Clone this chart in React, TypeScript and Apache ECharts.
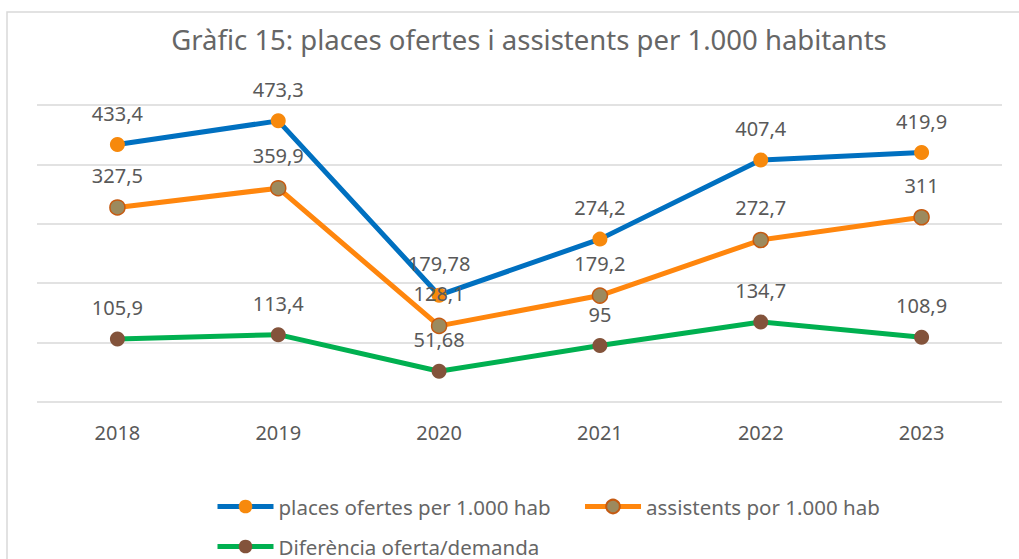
import React, { useEffect, useRef } from "react";
import * as echarts from "echarts";

const years = ["2018", "2019", "2020", "2021", "2022", "2023"];
const placesOfertes = [433.4, 473.3, 179.78, 274.2, 407.4, 419.9];
const assistents = [327.5, 359.9, 128.1, 179.2, 272.7, 311];
const diferencia = [105.9, 113.4, 51.68, 95, 134.7, 108.9];

const seriesNames = [
  "places ofertes per 1.000 hab",
  "assistents por 1.000 hab",
  "Diferència oferta/demanda",
];
const titleText = "Gràfic 15: places ofertes i assistents per 1.000 habitants";

const FONT = "'Noto Sans', sans-serif";
const TEXT = "#595959";

export default function App() {
  const ref = useRef<HTMLDivElement>(null);
  useEffect(() => {
    if (!ref.current) return;
    const chart = echarts.init(ref.current, undefined, { renderer: "svg" });
    const fmt = (p: any) => String(p.value).replace(".", ",");
    const label = {
      show: true,
      position: "top" as const,
      distance: 14,
      formatter: fmt,
      color: TEXT,
      fontSize: 20,
      fontFamily: FONT,
    };
    const legendBase = {
      left: 210,
      itemWidth: 56,
      itemHeight: 17,
      itemGap: 32,
      lineStyle: { width: 5 },
      textStyle: { color: "#666666", fontSize: 20.5, fontFamily: FONT },
    };
    chart.setOption({
      animation: false,
      textStyle: { fontFamily: FONT },
      graphic: [
        {
          type: "rect",
          shape: { x: 7, y: 12, width: 1200, height: 700 },
          style: { fill: "none", stroke: "#D9D9D9", lineWidth: 1.5 },
          silent: true,
          z: -10,
        },
        {
          type: "text",
          x: 529,
          y: 39,
          style: {
            text: titleText,
            fill: "#666666",
            fontSize: 27.5,
            fontFamily: FONT,
            align: "center",
            verticalAlign: "middle",
          },
        },
      ],
      grid: { left: 37, right: 17, top: 105, bottom: 157 },
      xAxis: {
        type: "category",
        data: years,
        boundaryGap: true,
        axisLine: { show: false },
        axisTick: { show: false },
        axisLabel: { color: TEXT, fontSize: 20, fontFamily: FONT, margin: 20 },
      },
      yAxis: {
        type: "value",
        min: 0,
        max: 500,
        interval: 100,
        axisLabel: { show: false },
        axisLine: { show: false },
        axisTick: { show: false },
        splitLine: { lineStyle: { color: "#D9D9D9", width: 1.5 } },
      },
      legend: [
        { ...legendBase, data: [seriesNames[0], seriesNames[1]], top: 491 },
        { ...legendBase, data: [seriesNames[2]], top: 531 },
      ],
      series: [
        {
          name: seriesNames[0],
          type: "line",
          data: placesOfertes,
          symbol: "circle",
          symbolSize: 15,
          lineStyle: { color: "#0070C0", width: 5 },
          itemStyle: { color: "#F7890C", borderWidth: 0 },
          label,
        },
        {
          name: seriesNames[1],
          type: "line",
          data: assistents,
          symbol: "circle",
          symbolSize: 15,
          lineStyle: { color: "#FF860D", width: 5 },
          itemStyle: { color: "#9C8A5E", borderColor: "#C55A11", borderWidth: 1.5 },
          label,
        },
        {
          name: seriesNames[2],
          type: "line",
          data: diferencia,
          symbol: "circle",
          symbolSize: 15,
          lineStyle: { color: "#00B050", width: 5 },
          itemStyle: { color: "#83533B", borderWidth: 0 },
          label,
        },
      ],
    });
    return () => chart.dispose();
  }, []);
  return (
    <div
      ref={ref}
      style={{ position: "fixed", left: 0, top: 0, width: 1019, height: 559, background: "#fff" }}
    />
  );
}
